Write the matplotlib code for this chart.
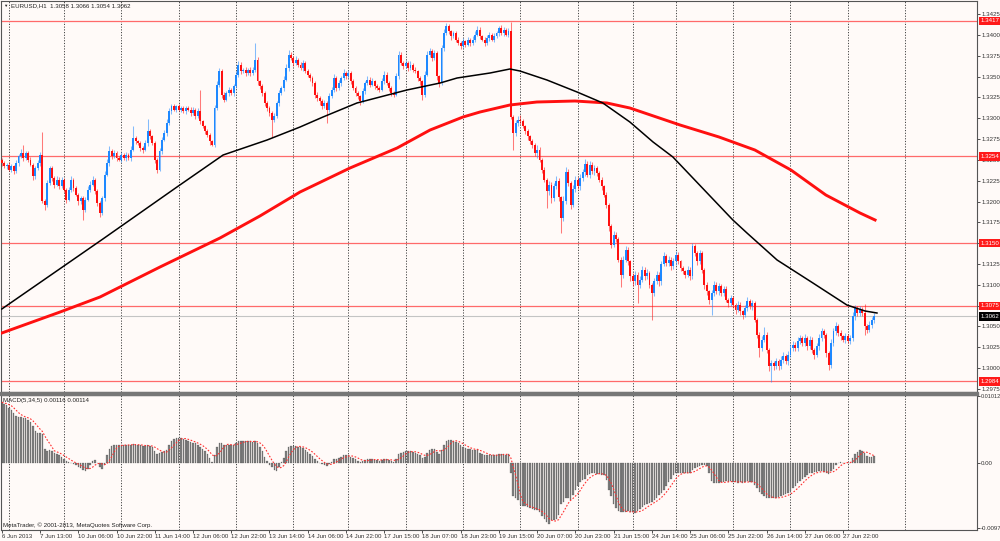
import numpy as np
import pandas as pd
import matplotlib
matplotlib.use("Agg")
import matplotlib.pyplot as plt
from matplotlib import transforms
from matplotlib.patches import Rectangle

plt.rcParams['font.family'] = ['Liberation Sans', 'DejaVu Sans']

# --- EURUSD H1, 6 Jun 21:00 .. 28 Jun 2013 ---
first_open = 1.3250
closes = [
    1.3246, 1.3242, 1.3244, 1.3238, 1.3242, 1.3236, 1.3246, 1.3254, 1.3258, 1.3252,
    1.3258, 1.3250, 1.3244, 1.3230, 1.3240, 1.3246, 1.3256, 1.3200, 1.3196, 1.3222,
    1.3240, 1.3228, 1.3220, 1.3226, 1.3218, 1.3226, 1.3214, 1.3202, 1.3214, 1.3226,
    1.3216, 1.3208, 1.3200, 1.3204, 1.3190, 1.3202, 1.3214, 1.3220, 1.3226, 1.3212,
    1.3198, 1.3186, 1.3204, 1.3232, 1.3246, 1.3260, 1.3254, 1.3258, 1.3252, 1.3250,
    1.3256, 1.3252, 1.3256, 1.3252, 1.3262, 1.3276, 1.3272, 1.3270, 1.3264, 1.3262,
    1.3270, 1.3284, 1.3278, 1.3270, 1.3250, 1.3238, 1.3260, 1.3274, 1.3282, 1.3294,
    1.3308, 1.3314, 1.3310, 1.3314, 1.3310, 1.3312, 1.3308, 1.3312, 1.3310, 1.3306,
    1.3310, 1.3302, 1.3308, 1.3296, 1.3290, 1.3284, 1.3280, 1.3272, 1.3268, 1.3312,
    1.3340, 1.3356, 1.3328, 1.3322, 1.3330, 1.3334, 1.3330, 1.3338, 1.3352, 1.3364,
    1.3356, 1.3358, 1.3354, 1.3358, 1.3354, 1.3358, 1.3370, 1.3344, 1.3338, 1.3330,
    1.3318, 1.3312, 1.3306, 1.3298, 1.3302, 1.3318, 1.3330, 1.3336, 1.3346, 1.3360,
    1.3376, 1.3372, 1.3366, 1.3370, 1.3364, 1.3360, 1.3366, 1.3356, 1.3352, 1.3348,
    1.3342, 1.3328, 1.3324, 1.3320, 1.3314, 1.3318, 1.3310, 1.3326, 1.3334, 1.3348,
    1.3336, 1.3342, 1.3348, 1.3354, 1.3350, 1.3354, 1.3344, 1.3336, 1.3330, 1.3326,
    1.3320, 1.3332, 1.3342, 1.3346, 1.3340, 1.3344, 1.3338, 1.3336, 1.3334, 1.3344,
    1.3352, 1.3342, 1.3336, 1.3330, 1.3328, 1.3350, 1.3376, 1.3366, 1.3362, 1.3366,
    1.3360, 1.3364, 1.3358, 1.3356, 1.3348, 1.3344, 1.3328, 1.3352, 1.3376, 1.3380,
    1.3372, 1.3378, 1.3350, 1.3342, 1.3384, 1.3402, 1.3410, 1.3404, 1.3398, 1.3402,
    1.3394, 1.3390, 1.3386, 1.3392, 1.3388, 1.3394, 1.3390, 1.3394, 1.3400, 1.3406,
    1.3398, 1.3394, 1.3390, 1.3396, 1.3400, 1.3394, 1.3398, 1.3402, 1.3408, 1.3402,
    1.3406, 1.3400, 1.3405, 1.3301, 1.3282, 1.3294, 1.3298, 1.3296, 1.3290, 1.3284,
    1.3278, 1.3272, 1.3268, 1.3258, 1.3262, 1.3250, 1.3238, 1.3226, 1.3212, 1.3220,
    1.3204, 1.3218, 1.3225, 1.3205, 1.3180, 1.3200, 1.3235, 1.3222, 1.3196, 1.3215,
    1.3226, 1.3218, 1.3228, 1.3235, 1.3245, 1.3232, 1.3244, 1.3236, 1.3240, 1.3234,
    1.3226, 1.3218, 1.3208, 1.3196, 1.3170, 1.3148, 1.3160, 1.3155, 1.3130, 1.3112,
    1.3130, 1.3142, 1.3128, 1.3110, 1.3104, 1.3112, 1.3100, 1.3106, 1.3118, 1.3110,
    1.3114, 1.3100, 1.3090, 1.3104, 1.3112, 1.3104, 1.3125, 1.3134, 1.3126, 1.3130,
    1.3122, 1.3128, 1.3136, 1.3128, 1.3120, 1.3116, 1.3112, 1.3118, 1.3110, 1.3146,
    1.3138, 1.3128, 1.3138, 1.3118, 1.3100, 1.3092, 1.3082, 1.3090, 1.3100, 1.3092,
    1.3098, 1.3090, 1.3095, 1.3082, 1.3078, 1.3084, 1.3076, 1.3070, 1.3076, 1.3068,
    1.3064, 1.3072, 1.3080, 1.3074, 1.3078, 1.3058, 1.3040, 1.3024, 1.3034, 1.3040,
    1.3022, 1.3002, 1.3006, 1.3002, 1.3008, 1.3002, 1.3010, 1.3014, 1.3008, 1.3016,
    1.3024, 1.3028, 1.3024, 1.3032, 1.3036, 1.3030, 1.3036, 1.3026, 1.3034, 1.3022,
    1.3016, 1.3026, 1.3036, 1.3044, 1.3040, 1.3018, 1.3004, 1.3030, 1.3044, 1.3050,
    1.3042, 1.3038, 1.3034, 1.3038, 1.3033, 1.3036, 1.3062, 1.3072, 1.3066, 1.3070,
    1.3066, 1.3050, 1.3046, 1.3052, 1.3058, 1.3062,
]

# wick lengths above / below the body, in pips
wick_up = [
    2, 3, 2, 3, 3, 2, 4, 3, 5, 10,
    3, 2, 3, 2, 3, 4, 3, 27, 3, 4,
    3, 2, 3, 4, 3, 3, 2, 2, 3, 4,
    2, 3, 2, 3, 2, 3, 4, 5, 4, 2,
    3, 2, 3, 4, 5, 6, 3, 4, 3, 2,
    3, 2, 3, 2, 4, 14, 3, 2, 3, 2,
    4, 15, 3, 2, 2, 2, 4, 3, 4, 5,
    4, 3, 3, 2, 3, 2, 3, 2, 2, 3,
    3, 2, 4, 26, 2, 2, 3, 2, 2, 4,
    5, 4, 3, 3, 2, 3, 2, 3, 4, 5,
    3, 2, 3, 2, 3, 3, 20, 3, 2, 3,
    2, 3, 2, 3, 4, 3, 4, 3, 4, 5,
    6, 3, 3, 4, 2, 3, 4, 2, 3, 2,
    3, 2, 3, 2, 3, 4, 2, 4, 3, 5,
    3, 4, 3, 5, 3, 4, 2, 3, 2, 3,
    2, 4, 3, 4, 3, 4, 2, 3, 2, 4,
    5, 3, 2, 3, 2, 4, 5, 3, 2, 4,
    3, 4, 2, 3, 2, 3, 2, 4, 5, 4,
    3, 4, 3, 2, 4, 5, 4, 3, 2, 3,
    2, 3, 2, 4, 2, 3, 2, 4, 5, 4,
    3, 2, 3, 4, 3, 2, 4, 3, 3, 4,
    3, 2, 3, 10, 3, 4, 5, 6, 3, 2,
    3, 2, 3, 2, 6, 3, 2, 3, 2, 5,
    3, 4, 5, 3, 2, 6, 6, 4, 3, 5,
    4, 3, 5, 4, 6, 3, 4, 3, 4, 3,
    2, 3, 2, 3, 2, 3, 5, 3, 2, 3,
    4, 5, 3, 2, 4, 5, 3, 4, 5, 3,
    5, 3, 2, 4, 5, 3, 4, 5, 3, 4,
    3, 4, 5, 3, 2, 3, 2, 4, 3, 4,
    3, 2, 4, 3, 2, 3, 2, 4, 5, 3,
    4, 3, 4, 3, 2, 4, 3, 2, 4, 3,
    2, 4, 5, 3, 4, 3, 2, 3, 4, 9,
    3, 2, 4, 3, 4, 3, 4, 5, 3, 4,
    5, 4, 3, 5, 4, 3, 5, 3, 4, 3,
    2, 4, 5, 4, 3, 2, 3, 5, 4, 5,
    3, 4, 2, 4, 3, 4, 5, 4, 3, 4,
    3, 11, 3, 4, 3, 4,
]
wick_dn = [
    3, 2, 3, 2, 3, 3, 2, 3, 2, 3,
    2, 3, 2, 4, 3, 2, 3, 2, 6, 3,
    2, 3, 4, 2, 3, 2, 3, 4, 2, 3,
    3, 2, 4, 3, 12, 3, 2, 3, 2, 3,
    3, 5, 2, 3, 2, 3, 3, 2, 3, 2,
    3, 2, 3, 2, 3, 2, 3, 2, 3, 4,
    2, 3, 3, 2, 4, 4, 2, 3, 2, 3,
    2, 3, 2, 3, 2, 3, 2, 3, 2, 3,
    2, 3, 2, 3, 2, 3, 3, 4, 2, 3,
    2, 3, 4, 3, 2, 3, 2, 3, 2, 3,
    3, 2, 3, 2, 3, 2, 3, 4, 3, 4,
    3, 4, 3, 21, 3, 2, 3, 2, 3, 2,
    3, 2, 3, 2, 3, 2, 3, 2, 3, 4,
    3, 4, 3, 4, 3, 2, 16, 3, 2, 3,
    4, 2, 3, 2, 3, 2, 3, 2, 4, 3,
    4, 2, 3, 2, 3, 2, 3, 2, 3, 2,
    3, 2, 3, 4, 3, 2, 3, 2, 3, 2,
    3, 2, 3, 2, 3, 4, 6, 3, 2, 3,
    3, 2, 4, 5, 2, 3, 2, 3, 4, 2,
    3, 2, 3, 2, 3, 2, 3, 2, 3, 2,
    3, 2, 3, 2, 3, 2, 3, 2, 3, 2,
    3, 2, 3, 2, 20, 3, 4, 3, 2, 3,
    4, 3, 4, 3, 6, 3, 4, 3, 20, 4,
    6, 4, 3, 5, 18, 4, 3, 4, 5, 3,
    4, 3, 4, 3, 4, 3, 4, 3, 4, 3,
    3, 4, 3, 4, 5, 4, 3, 4, 3, 15,
    4, 3, 4, 5, 6, 4, 22, 4, 3, 4,
    3, 4, 32, 4, 3, 5, 4, 3, 4, 3,
    4, 3, 4, 3, 4, 3, 4, 3, 4, 3,
    3, 4, 3, 4, 5, 4, 5, 18, 4, 3,
    4, 3, 4, 3, 5, 3, 4, 5, 3, 4,
    5, 3, 4, 3, 4, 3, 4, 11, 4, 3,
    4, 5, 19, 4, 3, 4, 3, 4, 3, 4,
    3, 4, 3, 4, 3, 4, 3, 4, 3, 4,
    5, 3, 4, 3, 4, 5, 6, 4, 3, 4,
    3, 4, 3, 4, 3, 4, 3, 4, 3, 4,
    3, 10, 4, 3, 4, 4,
]

# MACD(5,34,5) main line, in units of 0.0001
macd_e4 = [
    92, 90, 88, 84, 80, 76, 72, 70, 70, 69,
    68, 66, 62, 56, 48, 46, 46, 44, 22, 18,
    20, 18, 16, 14, 12, 10, 7, 4, 2, 1,
    -1, -3, -5, -7, -10, -11, -8, -3, 3, 5,
    0, -5, -8, -2, 12, 22, 26, 27, 27, 27,
    27, 28, 28, 28, 28, 29, 28, 27, 27, 26,
    26, 27, 26, 25, 18, 14, 16, 17, 18, 20,
    28, 33, 36, 38, 38, 38, 37, 35, 33, 32,
    31, 30, 27, 24, 22, 18, 14, 8, 2, 12,
    24, 31, 30, 28, 28, 27, 27, 28, 31, 33,
    33, 33, 33, 33, 33, 32, 34, 30, 25, 18,
    10, 4, -2, -6, -10, -11, -6, 2, 8, 18,
    24, 26, 26, 26, 25, 24, 23, 20, 17, 14,
    11, 6, 3, 1, -1, -3, -4, -1, 2, 6,
    6, 8, 10, 12, 12, 12, 10, 8, 6, 4,
    2, 3, 5, 6, 6, 6, 5, 5, 4, 5,
    7, 6, 5, 3, 2, 6, 14, 16, 17, 18,
    18, 18, 17, 16, 14, 12, 8, 10, 16, 20,
    21, 22, 17, 14, 20, 28, 34, 35, 35, 34,
    32, 30, 27, 25, 23, 22, 21, 20, 20, 21,
    16, 14, 12, 12, 13, 12, 12, 12, 14, 14,
    14, 13, 14, -15, -50, -53, -56, -63, -64, -65,
    -66, -67, -69, -70, -71, -74, -79, -84, -88, -92,
    -86, -85, -84, -78, -62, -58, -52, -52, -55, -48,
    -41, -34, -28, -25, -23, -18, -16, -15, -15, -16,
    -16, -17, -18, -25, -40, -50, -62, -68, -72, -74,
    -74, -73, -72, -73, -74, -75, -72, -69, -66, -63,
    -61, -60, -58, -55, -52, -48, -45, -40, -34, -28,
    -23, -18, -15, -14, -14, -14, -15, -15, -14, -10,
    -7, -5, -4, -3, -3, -4, -15, -26, -30, -30,
    -29, -28, -28, -27, -28, -27, -28, -28, -29, -28,
    -29, -28, -27, -28, -28, -33, -38, -44, -46, -50,
    -52, -52, -53, -52, -52, -51, -50, -48, -47, -45,
    -42, -38, -34, -30, -27, -23, -20, -17, -15, -14,
    -13, -13, -12, -12, -13, -15, -16, -11, -8, -2,
    1, 2, 1, 1, 1, 1, 8, 14, 17, 20,
    19, 16, 11, 9, 10, 11.6,
]

# moving averages (bar position, price)
black_bars = [0, 42.3, 73.3, 92.6, 111.0, 124.8, 134.4, 148.6, 169.5, 183.4,
              190.5, 204.3, 212.6, 216.8, 228.1, 240.7, 251.5, 262.8, 272.5,
              280.8, 305.9, 311.8, 324.4, 339.4, 353.6, 361.2, 366.2]
black_vals = [1.30710, 1.31550, 1.32174, 1.32558, 1.32738, 1.32894, 1.33014,
              1.33182, 1.33338, 1.33422, 1.33482, 1.33542, 1.33590, 1.33566,
              1.33458, 1.33314, 1.33182, 1.32954, 1.32714, 1.32534, 1.31778,
              1.31622, 1.31298, 1.31022, 1.30758, 1.30686, 1.30662]
red_bars = [0, 24.4, 41.1, 66.2, 91.3, 108.0, 124.8, 145.7, 165.4, 179.2,
            193.0, 200.1, 212.6, 223.9, 239.8, 253.2, 262.8, 283.8, 300.1,
            315.1, 330.2, 344.8, 359.1, 365.4]
red_vals = [1.30422, 1.30674, 1.30854, 1.31214, 1.31562, 1.31826, 1.32114,
            1.32402, 1.32642, 1.32858, 1.33014, 1.33074, 1.33158, 1.33194,
            1.33206, 1.33182, 1.33122, 1.32918, 1.32774, 1.32618, 1.32378,
            1.32078, 1.31862, 1.31778]

levels = [1.3417, 1.3254, 1.3150, 1.3075, 1.2984]
bid = 1.3062

day_bars = [3, 26, 50, 74, 98, 122, 145, 169, 193, 217, 241, 264, 282,
            306, 330, 354, 378]
time_labels = ["6 Jun 2013", "7 Jun 13:00", "10 Jun 06:00", "10 Jun 22:00",
               "11 Jun 14:00", "12 Jun 06:00", "12 Jun 22:00", "13 Jun 14:00",
               "14 Jun 06:00", "14 Jun 22:00", "17 Jun 15:00", "18 Jun 07:00",
               "18 Jun 23:00", "19 Jun 15:00", "20 Jun 07:00", "20 Jun 23:00",
               "21 Jun 15:00", "24 Jun 14:00", "25 Jun 06:00", "25 Jun 22:00",
               "26 Jun 14:00", "27 Jun 06:00", "27 Jun 22:00"]
label_bars = [16 * i for i in range(len(time_labels))]

# --- arrays ---
c = np.array(closes)
o = np.concatenate([[first_open], c[:-1]])
hi = np.maximum(o, c) + np.array(wick_up) * 1e-4
lo = np.minimum(o, c) - np.array(wick_dn) * 1e-4
x = np.arange(len(c))
macd = np.array(macd_e4) * 1e-4
signal = pd.Series(macd).rolling(5, min_periods=1).mean().values

BG = '#fffaf8'
BULL = '#1e88ff'
BEAR = '#ff1010'
FS = 4.4
W, H = 1000, 541

fig = plt.figure(figsize=(W / 100, H / 100), dpi=100, facecolor=BG)


def rect(x0, y0, x1, y1):
    return [x0 / W, 1 - y1 / H, (x1 - x0) / W, (y1 - y0) / H]


ax = fig.add_axes(rect(1, 1, 977, 392), facecolor=BG)
axm = fig.add_axes(rect(1, 395, 977, 530), facecolor=BG, sharex=ax)
fig.patches.append(Rectangle((0, 1 - 395.2 / H), 977.5 / W, 2.8 / H,
                             transform=fig.transFigure, color='#777777'))

ax.set_xlim(-0.335, 408.05)
ax.set_ylim(1.29714, 1.34406)
axm.set_ylim(-0.01006, 0.0103)

for a in (ax, axm):
    for s in a.spines.values():
        s.set_color('#555555')
        s.set_linewidth(0.8)
    for b in day_bars:
        a.axvline(b, color='#444444', lw=0.7, ls=(0, (1.2, 1.6)), zorder=0)

# levels and bid line
for lv in levels:
    ax.axhline(lv, color='#ff6a6a', lw=0.9, zorder=1)
ax.axhline(bid, color='#c4c4c4', lw=0.8, zorder=1)

# candles
up = c >= o
col = np.where(up, BULL, BEAR)
ax.vlines(x, lo, hi, colors=col, lw=0.75, alpha=0.55, zorder=2)
body = np.maximum(np.abs(c - o), 0.00003)
ax.bar(x, body, bottom=np.minimum(o, c), width=0.8, color=col, lw=0, zorder=3)

# moving averages
ax.plot(red_bars, red_vals, color='#ff1010', lw=2.1, zorder=4,
        solid_joinstyle='round')
ax.plot(black_bars, black_vals, color='black', lw=1.1, zorder=4,
        solid_joinstyle='round')

# right price scale
ax.yaxis.tick_right()
yt = np.arange(1.2975, 1.34251, 0.0025)
ax.set_yticks(yt)
ax.set_yticklabels([f"{v:.4f}" for v in yt])
ax.tick_params(axis='y', labelsize=FS, length=2, pad=1, colors='#333333', width=0.6)
ax.tick_params(axis='x', bottom=False, labelbottom=False)

tr = transforms.blended_transform_factory(ax.transAxes, ax.transData)
for lv in levels:
    ax.text(1.0035, lv, f"{lv:.4f}", transform=tr, fontsize=FS, color='white',
            va='center', ha='left', zorder=6, clip_on=False,
            bbox=dict(boxstyle='square,pad=0.25', fc='#ff1a1a', ec='none'))
ax.text(1.0035, bid, f"{bid:.4f}", transform=tr, fontsize=FS, color='white',
        va='center', ha='left', zorder=6, clip_on=False,
        bbox=dict(boxstyle='square,pad=0.25', fc='black', ec='none'))

# MACD panel
axm.bar(x, macd, width=0.62, color='#808080', edgecolor='#404040', lw=0.15, zorder=2)
axm.plot(x, signal, color='#ff3030', lw=0.8, ls=(0, (1.5, 1.5)), zorder=3)
axm.yaxis.tick_right()
axm.set_yticks([0.01012, 0.0, -0.0097])
axm.set_yticklabels(["0.01012", "0.00", "-0.0097"])
axm.tick_params(axis='y', labelsize=FS, length=2, pad=1, colors='#333333', width=0.6)
axm.get_yticklabels()[0].set_fontsize(4.0)
axm.set_xticks(label_bars)
axm.set_xticklabels(time_labels)
axm.tick_params(axis='x', labelsize=FS, length=2, pad=1, colors='#333333', width=0.6)
for lbl in axm.get_xticklabels():
    lbl.set_ha('left')

# captions
fig.text(3.5 / W, 1 - 6 / H, "\u25bc", fontsize=3.2, va='center', ha='left', color='#222222')
fig.text(11 / W, 1 - 6 / H, "EURUSD,H1  1.3058 1.3066 1.3054 1.3062", fontsize=FS,
         va='center', ha='left', color='#222222')
fig.text(3 / W, 1 - 400.5 / H, "MACD(5,34,5) 0.00116 0.00114", fontsize=FS,
         va='center', ha='left', color='#222222')
fig.text(3 / W, 1 - 525 / H, "MetaTrader, \u00a9 2001-2013, MetaQuotes Software Corp.",
         fontsize=FS, va='center', ha='left', color='#222222')

fig.savefig("out.png", dpi=100, facecolor=BG)
